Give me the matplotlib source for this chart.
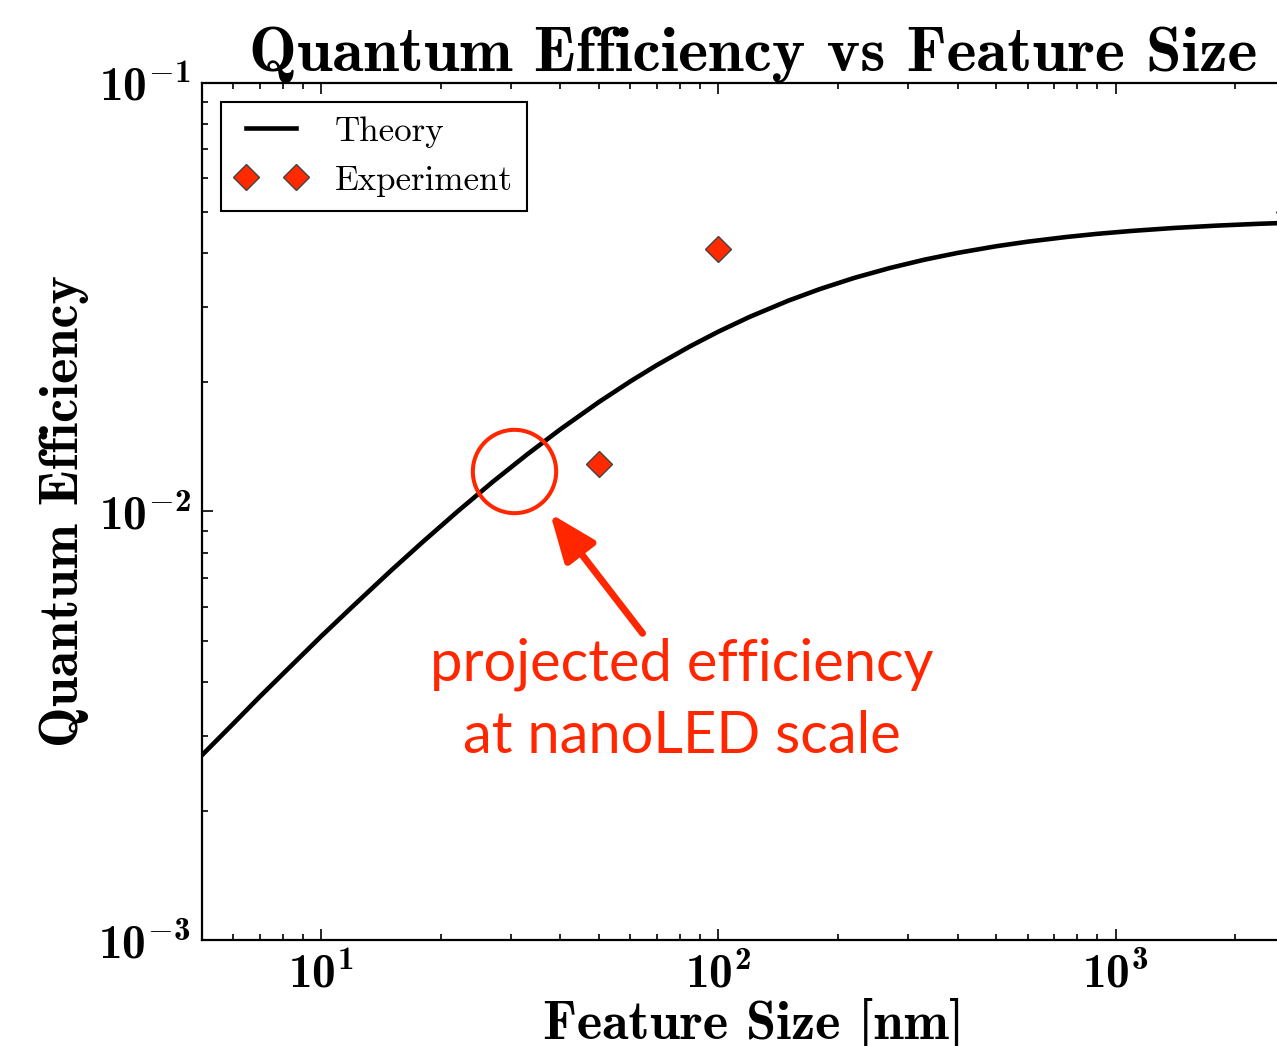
import matplotlib
matplotlib.use("Agg")
import matplotlib.pyplot as plt
from matplotlib.ticker import FuncFormatter
import numpy as np

# data
theory_x = [5, 6, 7, 8, 10, 12, 15, 18, 22, 27, 33, 40, 50, 60, 70, 85, 100,
            120, 150, 180, 220, 270, 330, 400, 500, 600, 750, 900, 1100,
            1400, 1800, 2300, 3000]
theory_y = [0.00270, 0.00320, 0.00370, 0.00418, 0.00512, 0.00601, 0.00729,
            0.00849, 0.00999, 0.01172, 0.01359, 0.01555, 0.01800, 0.02011,
            0.02195, 0.02430, 0.02627, 0.02845, 0.03102, 0.03301, 0.03506,
            0.03696, 0.03865, 0.04008, 0.04154, 0.04257, 0.04365, 0.04441,
            0.04511, 0.04582, 0.04641, 0.04687, 0.04726]

exp_x = [50, 100, 2730]
exp_y = [0.0129, 0.0410, 0.0498]

highlight = (30.5, 0.0124)        # circled point on the theory curve
arrow_head = (37.7, 0.00989)
arrow_tail = (64.4, 0.00520)
note_pos = (80.7, 0.00274)        # baseline of the last line

red = "#ff2600"

plt.rcParams["mathtext.fontset"] = "custom"
plt.rcParams["mathtext.rm"] = "cmr10"
plt.rcParams["mathtext.bf"] = "cmb10"
plt.rcParams["mathtext.it"] = "cmmi10"
plt.rcParams["mathtext.fallback"] = "cm"
plt.rcParams["axes.formatter.use_mathtext"] = True
plt.rcParams["font.family"] = ["cmr10", "DejaVu Sans"]

fig = plt.figure(figsize=(12.77, 10.46), dpi=100)
ax = fig.add_axes([0.158, 0.101, 0.864, 0.820])

ax.plot(theory_x, theory_y, color="black", lw=3.3, label="Theory", zorder=3)
ax.plot(exp_x, exp_y, ls="none", marker="D", ms=13, mfc="#ff2a00",
        mec="#444444", mew=1, label="Experiment", zorder=4)

ax.set_xscale("log")
ax.set_yscale("log")
ax.set_xlim(5, 3000)
ax.set_ylim(1e-3, 1e-1)

bold_pow = FuncFormatter(lambda v, p: r"$\mathbf{10^{%d}}$" % round(np.log10(v)))
ax.xaxis.set_major_formatter(bold_pow)
ax.yaxis.set_major_formatter(bold_pow)

for s in ax.spines.values():
    s.set_linewidth(1.6)
ax.tick_params(which="both", direction="in", top=True, right=True,
               labelsize=34, width=1.2)
ax.tick_params(which="major", length=8, pad=8)
ax.tick_params(which="minor", length=4)

ax.set_title("Quantum Efficiency vs Feature Size", family="cmb10",
             fontsize=46, pad=1)
ax.set_xlabel("Feature Size [nm]", family="cmb10", fontsize=39, labelpad=1)
ax.set_ylabel("Quantum Efficiency", family="cmb10", fontsize=39, labelpad=7)

leg = ax.legend(loc="upper left", numpoints=2, fontsize=25.2, fancybox=False,
                framealpha=1, edgecolor="black", borderpad=0.4,
                handlelength=2.05, handletextpad=0.8, labelspacing=0.5,
                borderaxespad=0.55)
leg.get_frame().set_linewidth(1.5)

# annotation
ax.plot(*highlight, marker="o", ms=60, mfc="none", mec=red, mew=2.9,
        zorder=5)
ax.annotate("", xy=arrow_head, xytext=arrow_tail,
            arrowprops=dict(arrowstyle="-|>,head_length=0.8,head_width=0.32",
                            mutation_scale=36, lw=5, color=red,
                            shrinkA=0, shrinkB=0), zorder=5)
ax.text(*note_pos, "projected efficiency\nat nanoLED scale", color=red,
        family="Lato", fontsize=41.7, ha="center", va="baseline",
        multialignment="center", linespacing=1.44, zorder=5)

fig.savefig("out.png", dpi=100)
